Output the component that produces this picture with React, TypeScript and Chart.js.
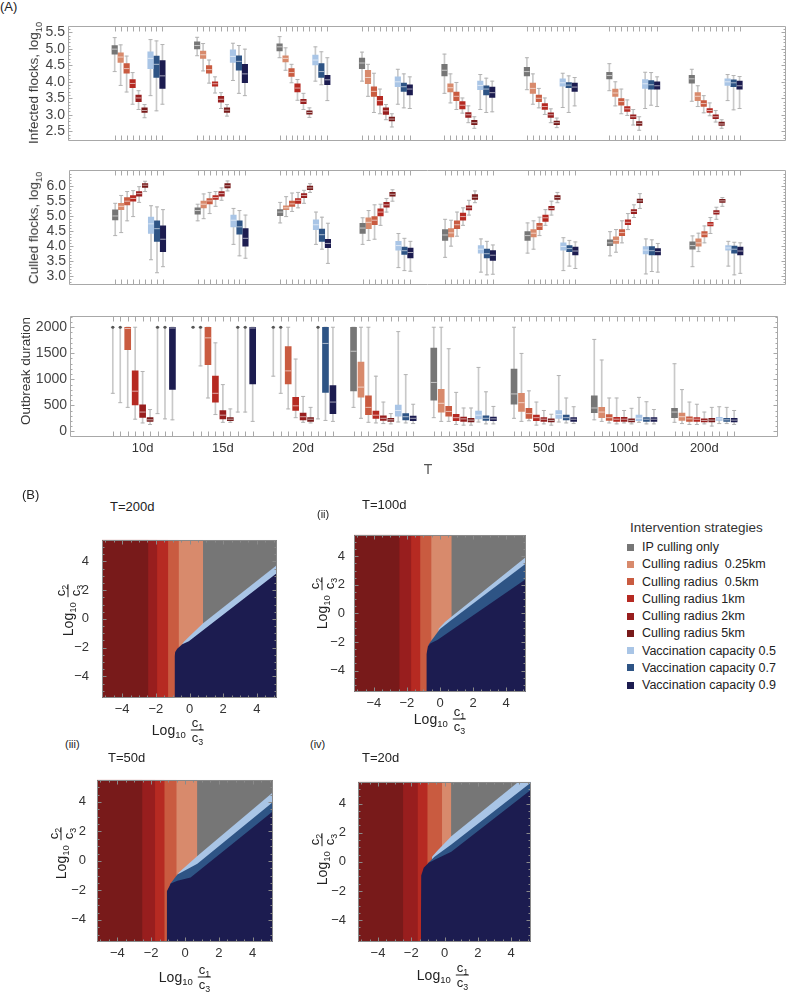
import React, { useEffect, useRef } from 'react';
import { Chart, registerables } from 'chart.js';
Chart.register(...registerables);

const FONT = '"Liberation Sans", Arial, Helvetica, sans-serif';
Chart.defaults.font.family = FONT;

// ---------- shared categories ----------
const groups = ['10d', '15d', '20d', '25d', '35d', '50d', '100d', '200d'];
const strategies = [
  'IP culling only',
  'Culling radius  0.25km',
  'Culling radius  0.5km',
  'Culling radius 1km',
  'Culling radius 2km',
  'Culling radius 5km',
  'Vaccination capacity 0.5',
  'Vaccination capacity 0.7',
  'Vaccination capacity 0.9',
];
const colors = ['#767676', '#d88a6c', '#c95b40', '#b62a22', '#981e1e', '#781a1a', '#a9c5e6', '#2e5485', '#1c1c50'];
const WHISKER = '#c9c9c9';
const CAP = '#b3b3b3';
const DOT = '#555555';

// ---------- (A) box plot statistics: per strategy, per T group: [min, q1, median, q3, max] ----------
const infectedStats = [
  [[4.31, 4.84, 4.99, 5.10, 5.34], [4.79, 5.00, 5.10, 5.21, 5.35], [4.73, 4.94, 5.06, 5.15, 5.37], [4.02, 4.40, 4.57, 4.72, 4.90], [3.65, 4.18, 4.35, 4.53, 4.84], [3.76, 4.18, 4.31, 4.44, 4.73], [3.73, 4.09, 4.19, 4.29, 4.55], [3.41, 3.96, 4.09, 4.20, 4.38]],
  [[3.89, 4.59, 4.75, 4.88, 5.12], [4.33, 4.71, 4.82, 4.93, 5.16], [4.35, 4.60, 4.71, 4.79, 5.03], [3.56, 3.94, 4.13, 4.35, 4.53], [3.36, 3.69, 3.82, 3.94, 4.24], [3.32, 3.65, 3.80, 3.96, 4.24], [3.27, 3.56, 3.66, 3.78, 4.00], [3.25, 3.43, 3.56, 3.67, 3.88]],
  [[3.69, 4.26, 4.40, 4.55, 4.78], [3.96, 4.26, 4.37, 4.49, 4.66], [3.97, 4.16, 4.28, 4.40, 4.53], [3.07, 3.56, 3.71, 3.85, 4.26], [3.16, 3.43, 3.56, 3.69, 3.98], [3.21, 3.40, 3.50, 3.60, 3.80], [3.03, 3.29, 3.40, 3.49, 3.78], [3.06, 3.25, 3.34, 3.43, 3.58]],
  [[3.32, 3.82, 3.95, 4.07, 4.28], [3.66, 3.87, 3.94, 4.00, 4.15], [3.44, 3.69, 3.81, 3.94, 4.07], [3.03, 3.29, 3.43, 3.56, 3.78], [3.05, 3.18, 3.29, 3.40, 3.51], [3.01, 3.16, 3.25, 3.34, 3.51], [2.98, 3.10, 3.18, 3.25, 3.45], [2.97, 3.07, 3.13, 3.19, 3.36]],
  [[3.16, 3.40, 3.51, 3.60, 3.73], [3.19, 3.38, 3.47, 3.56, 3.67], [3.16, 3.34, 3.41, 3.47, 3.65], [2.85, 3.01, 3.12, 3.21, 3.31], [2.76, 2.92, 3.00, 3.07, 3.27], [2.76, 2.92, 3.00, 3.06, 3.18], [2.69, 2.88, 2.94, 3.00, 3.16], [2.78, 2.88, 2.94, 3.00, 3.13]],
  [[2.91, 3.07, 3.13, 3.21, 3.31], [2.96, 3.07, 3.14, 3.21, 3.31], [2.92, 3.02, 3.07, 3.12, 3.21], [2.63, 2.81, 2.87, 2.93, 3.03], [2.59, 2.70, 2.76, 2.83, 2.94], [2.61, 2.70, 2.76, 2.81, 2.90], [2.53, 2.68, 2.74, 2.79, 2.94], [2.59, 2.68, 2.72, 2.78, 2.85]],
  [[3.58, 4.40, 4.71, 4.91, 5.28], [4.04, 4.59, 4.77, 4.97, 5.17], [4.02, 4.51, 4.66, 4.81, 5.06], [3.32, 3.85, 4.00, 4.15, 4.38], [3.16, 3.76, 3.89, 4.02, 4.22], [3.22, 3.87, 3.97, 4.09, 4.26], [3.19, 3.80, 3.94, 4.07, 4.29], [3.43, 3.89, 4.00, 4.09, 4.22]],
  [[3.12, 4.13, 4.53, 4.78, 5.24], [3.65, 4.35, 4.62, 4.79, 5.10], [3.91, 4.13, 4.31, 4.55, 4.91], [3.21, 3.71, 3.85, 3.96, 4.24], [3.07, 3.60, 3.78, 3.88, 4.11], [3.07, 3.82, 3.90, 3.98, 4.18], [3.29, 3.78, 3.91, 4.04, 4.28], [3.15, 3.85, 3.97, 4.06, 4.19]],
  [[3.32, 3.80, 4.18, 4.64, 5.13], [3.58, 3.97, 4.24, 4.53, 4.99], [3.43, 3.91, 4.06, 4.20, 4.73], [3.19, 3.60, 3.78, 3.91, 4.15], [3.09, 3.53, 3.67, 3.84, 4.02], [3.27, 3.71, 3.84, 3.96, 4.13], [3.25, 3.78, 3.88, 4.00, 4.15], [3.19, 3.78, 3.88, 4.02, 4.16]],
];

const culledStats = [
  [[4.35, 4.87, 5.00, 5.20, 5.42], [4.84, 5.06, 5.18, 5.27, 5.39], [4.77, 5.01, 5.13, 5.21, 5.45], [4.06, 4.42, 4.60, 4.76, 4.94], [3.63, 4.19, 4.37, 4.55, 4.89], [3.77, 4.19, 4.35, 4.48, 4.77], [3.68, 4.02, 4.11, 4.21, 4.48], [3.32, 3.90, 4.02, 4.14, 4.34]],
  [[4.45, 5.21, 5.32, 5.42, 5.68], [4.91, 5.27, 5.39, 5.49, 5.73], [4.98, 5.21, 5.27, 5.34, 5.64], [4.19, 4.58, 4.79, 4.94, 5.18], [4.00, 4.31, 4.44, 4.58, 4.86], [3.90, 4.31, 4.43, 4.55, 4.84], [3.80, 4.09, 4.19, 4.31, 4.55], [3.82, 4.00, 4.11, 4.24, 4.43]],
  [[4.84, 5.37, 5.49, 5.61, 5.81], [5.08, 5.40, 5.50, 5.58, 5.78], [5.15, 5.32, 5.40, 5.49, 5.76], [4.23, 4.71, 4.86, 4.98, 5.37], [4.33, 4.58, 4.71, 4.84, 5.13], [4.35, 4.55, 4.66, 4.76, 4.96], [4.11, 4.35, 4.45, 4.55, 4.84], [4.11, 4.31, 4.40, 4.48, 4.67]],
  [[4.98, 5.49, 5.58, 5.68, 5.84], [5.32, 5.55, 5.61, 5.68, 5.81], [5.27, 5.42, 5.52, 5.58, 5.78], [4.69, 5.00, 5.13, 5.24, 5.39], [4.69, 4.86, 4.98, 5.10, 5.27], [4.69, 4.82, 4.94, 5.03, 5.21], [4.55, 4.71, 4.79, 4.87, 5.08], [4.42, 4.67, 4.73, 4.79, 4.95]],
  [[5.45, 5.66, 5.74, 5.81, 5.97], [5.52, 5.66, 5.74, 5.81, 5.93], [5.42, 5.61, 5.68, 5.74, 5.85], [5.13, 5.29, 5.37, 5.45, 5.58], [5.03, 5.20, 5.27, 5.34, 5.52], [5.03, 5.20, 5.25, 5.32, 5.49], [4.95, 5.08, 5.15, 5.21, 5.37], [4.89, 5.06, 5.12, 5.18, 5.29]],
  [[5.81, 5.95, 6.02, 6.07, 6.15], [5.83, 5.93, 6.00, 6.07, 6.16], [5.78, 5.87, 5.93, 5.99, 6.07], [5.49, 5.66, 5.72, 5.78, 5.87], [5.44, 5.55, 5.62, 5.71, 5.83], [5.44, 5.55, 5.61, 5.68, 5.78], [5.25, 5.44, 5.50, 5.56, 5.74], [5.32, 5.45, 5.50, 5.55, 5.61]],
  [[3.55, 4.42, 4.74, 4.96, 5.34], [4.06, 4.64, 4.86, 5.03, 5.25], [4.06, 4.55, 4.71, 4.87, 5.13], [3.29, 3.87, 4.02, 4.16, 4.42], [3.14, 3.77, 3.90, 4.02, 4.24], [3.19, 3.87, 3.99, 4.11, 4.28], [3.08, 3.74, 3.87, 3.99, 4.24], [3.34, 3.87, 3.94, 4.02, 4.16]],
  [[3.12, 4.16, 4.58, 4.84, 5.30], [3.68, 4.40, 4.64, 4.84, 5.18], [3.90, 4.16, 4.38, 4.57, 4.96], [3.19, 3.73, 3.85, 3.97, 4.26], [3.05, 3.61, 3.75, 3.90, 4.16], [3.34, 3.82, 3.92, 4.02, 4.19], [3.16, 3.71, 3.85, 3.99, 4.21], [3.05, 3.77, 3.90, 4.00, 4.13]],
  [[3.32, 3.82, 4.23, 4.67, 5.21], [3.60, 4.00, 4.26, 4.58, 5.03], [3.43, 3.95, 4.09, 4.23, 4.76], [3.17, 3.61, 3.79, 3.94, 4.16], [3.07, 3.53, 3.70, 3.85, 4.04], [3.26, 3.71, 3.84, 3.97, 4.14], [3.14, 3.71, 3.82, 3.92, 4.09], [3.10, 3.71, 3.84, 3.97, 4.11]],
];

const durationStats = [
  [[731, 2000, 2000, 2000, 2000], [2000, 2000, 2000, 2000, 2000], [1060, 2000, 2000, 2000, 2000], [461, 778, 1539, 2000, 2000], [263, 599, 940, 1599, 2000], [251, 521, 719, 1198, 2000], [222, 359, 449, 683, 1766], [174, 263, 371, 443, 1299]],
  [[551, 2000, 2000, 2000, 2000], [1257, 2000, 2000, 2000, 2000], [731, 2000, 2000, 2000, 2000], [251, 659, 850, 1329, 2000], [192, 371, 539, 808, 2000], [192, 383, 551, 731, 1497], [192, 263, 371, 461, 1371], [150, 210, 281, 353, 802]],
  [[461, 1569, 1975, 2000, 2000], [641, 1281, 1796, 2000, 2000], [431, 910, 1162, 1629, 2000], [174, 323, 461, 683, 2000], [192, 293, 383, 479, 1587], [204, 251, 341, 443, 778], [162, 210, 263, 323, 641], [132, 192, 240, 281, 563]],
  [[234, 509, 772, 1162, 2000], [323, 563, 731, 1060, 1700], [263, 401, 491, 653, 1389], [162, 251, 311, 389, 1060], [132, 204, 263, 329, 749], [120, 204, 263, 311, 563], [144, 192, 234, 269, 641], [132, 192, 234, 263, 521]],
  [[162, 269, 371, 509, 1150], [174, 240, 311, 401, 898], [174, 222, 281, 353, 671], [150, 210, 251, 299, 563], [120, 192, 240, 275, 449], [144, 192, 234, 263, 401], [162, 192, 234, 269, 401], [144, 180, 210, 240, 371]],
  [[132, 192, 222, 263, 419], [174, 204, 234, 263, 431], [162, 192, 234, 263, 461], [144, 192, 222, 251, 341], [120, 180, 216, 251, 449], [120, 180, 210, 240, 329], [144, 180, 210, 240, 443], [102, 180, 216, 251, 461]],
  [[341, 2000, 2000, 2000, 2000], [371, 2000, 2000, 2000, 2000], [240, 2000, 2000, 2000, 2000], [180, 293, 401, 503, 1916], [180, 240, 311, 389, 1228], [180, 251, 323, 401, 1072], [174, 204, 251, 311, 653], [150, 210, 240, 269, 473]],
  [[240, 2000, 2000, 2000, 2000], [371, 2000, 2000, 2000, 2000], [210, 749, 1689, 2000, 2000], [162, 222, 281, 341, 1090], [144, 210, 251, 299, 760], [162, 222, 263, 311, 641], [144, 192, 234, 263, 569], [150, 192, 222, 251, 461]],
  [[222, 808, 1985, 2000, 2000], [192, 910, 1985, 2000, 2000], [192, 341, 563, 880, 2000], [150, 204, 251, 293, 521], [144, 204, 240, 275, 479], [150, 192, 234, 263, 473], [144, 192, 234, 263, 419], [132, 180, 216, 251, 401]],
];

const infectedTicks = [2.5, 3.0, 3.5, 4.0, 4.5, 5.0, 5.5];
const culledTicks = [3.0, 3.5, 4.0, 4.5, 5.0, 5.5, 6.0];
const durationTicks = [0, 500, 1000, 1500, 2000];

// ---------- (B) region maps (log10 c1/c3, log10 c2/c3) ----------
const mapTitles = ['T=200d', 'T=100d', 'T=50d', 'T=20d'];
const mapTicks = [-4, -2, 0, 2, 4];
// boundaries between strips: 5km|2km, 2km|1km, 1km|0.5km, 0.5km|0.25km, 0.25km|IP
const strips200 = [-2.44, -1.91, -1.26, -0.63, 0.81];
const strips100 = [-2.44, -1.73, -1.18, -0.51, 0.71];
const strips50 = [-2.51, -1.76, -1.2, -0.49, 0.73];
const strips20 = [-2.48, -1.6, -1.01, -0.14, 0.41];
// upper edges of vaccination regions
const light200X = [-0.6, -0.35, 0.0, 0.81, 5.2];
const light200Y = [-2.05, -1.6, -1.2, -0.31, 3.74];
const mid200X: number[] = [];
const mid200Y: number[] = [];
const navy200X = [-0.89, -0.89, -0.85, -0.73, -0.43, -0.04, 5.2];
const navy200Y = [-5.5, -2.6, -2.3, -2.08, -1.77, -1.56, 3.2];

const light100X = [-0.1, 0.3, 0.71, 5.2];
const light100Y = [-1.1, -0.6, -0.22, 3.95];
const mid100X = [-0.7, -0.45, 0.0, 0.71, 5.2];
const mid100Y = [-2.2, -1.8, -1.1, -0.45, 3.5];
const navy100X = [-0.83, -0.82, -0.73, -0.57, -0.16, 5.2];
const navy100Y = [-5.5, -2.85, -2.3, -2.08, -1.86, 2.41];

const light50X = [-0.5, -0.35, 0.73, 5.2];
const light50Y = [-1.05, -0.77, 0.33, 4.66];
const mid50X = [-0.9, -0.45, 0.73, 5.2];
const mid50Y = [-1.6, -0.92, -0.19, 3.99];
const navy50X = [-1.08, -1.08, -0.84, -0.45, 0.33, 5.2];
const navy50Y = [-5.5, -2.07, -1.54, -1.34, -1.13, 3.36];

const light20X = [-0.75, -0.4, 0.41, 5.2];
const light20Y = [0.35, 0.8, 1.76, 6.2];
const mid20X = [-1.0, -0.6, 0.41, 5.2];
const mid20Y = [-0.1, 0.35, 1.2, 5.45];
const navy20X = [-1.42, -1.4, -1.25, -0.95, -0.5, 0.41, 5.2];
const navy20Y = [-5.5, -0.94, -0.4, -0.05, 0.2, 0.69, 4.95];

const BX = [-5.2, 5.2];
const BY = [-5.5, 5.5];

// ---------- helpers ----------
type Area = { l: number; t: number; r: number; b: number };

function framePlugin(o: { xMajor: number[]; xMinor?: number[]; yMajor: number[]; yMinor: number[]; xLen: number; major: number; minor: number; color: string }) {
  return {
    id: 'frameTicks',
    afterDatasetsDraw(chart: any) {
      const { ctx, chartArea: a } = chart;
      const xs = chart.scales.x;
      const ys = chart.scales.y;
      const L = Math.round(a.left) + 0.5;
      const R = Math.round(a.right) - 0.5;
      const T = Math.round(a.top) + 0.5;
      const B = Math.round(a.bottom) - 0.5;
      ctx.save();
      ctx.strokeStyle = o.color;
      ctx.lineWidth = 1;
      ctx.beginPath();
      ctx.rect(L, T, R - L, B - T);
      const tx = (vals: number[], len: number) =>
        vals.forEach((v) => {
          const p = Math.round(xs.getPixelForValue(v)) + 0.5;
          ctx.moveTo(p, T);
          ctx.lineTo(p, T + len);
          ctx.moveTo(p, B);
          ctx.lineTo(p, B - len);
        });
      const ty = (vals: number[], len: number) =>
        vals.forEach((v) => {
          const p = Math.round(ys.getPixelForValue(v)) + 0.5;
          if (p < T || p > B) return;
          ctx.moveTo(L, p);
          ctx.lineTo(L + len, p);
          ctx.moveTo(R, p);
          ctx.lineTo(R - len, p);
        });
      tx(o.xMajor, o.xLen);
      if (o.xMinor) tx(o.xMinor, o.minor);
      ty(o.yMajor, o.major);
      ty(o.yMinor, o.minor);
      ctx.stroke();
      ctx.restore();
    },
  };
}

function minorTicks(from: number, to: number, step: number, skipEvery: number) {
  const out: number[] = [];
  const n = Math.round((to - from) / step);
  for (let i = 0; i <= n; i++) {
    const v = from + i * step;
    const k = Math.round(v / step);
    if (k % skipEvery !== 0) out.push(+v.toFixed(6));
  }
  return out;
}

function boxDatasets(stats: number[][][], step: number, thick: number, minIqr: number) {
  const ds: any[] = [];
  stats.forEach((rows, s) => {
    const xs = rows.map((_, g) => g + (s - 4) * step);
    const open = (g: number) => rows[g][3] - rows[g][1] >= minIqr;
    ds.push({
      type: 'bar',
      data: rows.map((r, g) => ({ x: xs[g], y: [r[0], r[4]] })),
      backgroundColor: WHISKER,
      barThickness: 1,
      grouped: false,
      order: 40,
    });
    ds.push({
      type: 'scatter',
      data: rows.flatMap((r, g) => [{ x: xs[g], y: r[0] }, { x: xs[g], y: r[4] }]),
      pointStyle: 'line',
      pointRadius: 2,
      pointBorderColor: CAP,
      pointBackgroundColor: CAP,
      pointBorderWidth: 1,
      order: 30,
    });
    ds.push({
      type: 'bar',
      data: rows.map((r, g) => ({ x: xs[g], y: [r[1], r[3]] })).filter((_, g) => open(g)),
      backgroundColor: colors[s],
      barThickness: thick,
      grouped: false,
      order: 20,
    });
    ds.push({
      type: 'scatter',
      data: rows.map((r, g) => ({ x: xs[g], y: r[2] })).filter((_, g) => open(g)),
      pointStyle: 'line',
      pointRadius: thick / 2,
      pointBorderColor: 'rgba(255,255,255,0.6)',
      pointBackgroundColor: 'rgba(255,255,255,0.6)',
      pointBorderWidth: 1,
      order: 10,
    });
    ds.push({
      type: 'scatter',
      data: rows.map((r, g) => ({ x: xs[g], y: r[2] })).filter((_, g) => !open(g)),
      pointStyle: 'circle',
      pointRadius: 1.5,
      pointBorderWidth: 0,
      pointBackgroundColor: DOT,
      pointBorderColor: DOT,
      order: 5,
    });
  });
  return ds;
}

function boxChart(opts: {
  stats: number[][][];
  step: number;
  thick: number;
  minIqr: number;
  xMin: number;
  xMax: number;
  yMin: number;
  yMax: number;
  yTicks: number[];
  yMinor: number[];
  fmt: (v: number) => string;
  showX: boolean;
  yW: number;
  xH: number;
}) {
  const boxXs: number[] = [];
  opts.stats.forEach((rows, s) => rows.forEach((_, g) => boxXs.push(g + (s - 4) * opts.step)));
  return {
    type: 'bar',
    data: { datasets: boxDatasets(opts.stats, opts.step, opts.thick, opts.minIqr) },
    options: {
      animation: false,
      responsive: false,
      events: [],
      plugins: { legend: { display: false }, tooltip: { enabled: false } },
      scales: {
        x: {
          type: 'linear',
          min: opts.xMin,
          max: opts.xMax,
          offset: false,
          display: opts.showX,
          afterBuildTicks: (s: any) => {
            s.ticks = groups.map((_, i) => ({ value: i }));
          },
          ticks: {
            autoSkip: false,
            maxRotation: 0,
            padding: 4,
            color: '#333',
            font: { size: 13, family: FONT },
            callback: (v: any) => groups[v] ?? '',
          },
          grid: { display: false, drawTicks: false },
          border: { display: false },
          afterFit: (s: any) => {
            s.height = opts.xH;
          },
        },
        y: {
          type: 'linear',
          min: opts.yMin,
          max: opts.yMax,
          beginAtZero: false,
          afterBuildTicks: (s: any) => {
            s.ticks = opts.yTicks.map((v) => ({ value: v }));
          },
          ticks: {
            autoSkip: false,
            padding: 3,
            color: '#444',
            font: { size: 14, family: FONT },
            callback: (v: any) => opts.fmt(Number(v)),
          },
          grid: { display: false, drawTicks: false },
          border: { display: false },
          afterFit: (s: any) => {
            s.width = opts.yW;
          },
        },
      },
    },
    plugins: [
      framePlugin({ xMajor: boxXs, yMajor: opts.yTicks, yMinor: opts.yMinor, xLen: 5, major: 4, minor: 2, color: '#a8a8a8' }),
    ],
  };
}

function regionDatasets(bounds: number[], lx: number[], ly: number[], mx: number[], my: number[], nx: number[], ny: number[]) {
  const top = BY[1];
  const list: { color: string; xs: number[]; ys: number[] }[] = [];
  list.push({ color: colors[0], xs: [BX[0], BX[1]], ys: [top, top] });
  for (let s = 1; s <= 5; s++) list.push({ color: colors[s], xs: [BX[0], bounds[5 - s]], ys: [top, top] });
  if (lx.length) list.push({ color: colors[6], xs: lx, ys: ly });
  if (mx.length) list.push({ color: colors[7], xs: mx, ys: my });
  list.push({ color: colors[8], xs: nx, ys: ny });
  return list.map((r, i) => ({
    type: 'line',
    data: r.xs.map((x, k) => ({ x, y: r.ys[k] })),
    fill: 'start',
    backgroundColor: r.color,
    borderColor: 'rgba(0,0,0,0)',
    borderWidth: 0,
    pointRadius: 0,
    tension: 0,
    order: list.length - i,
  }));
}

const fmtMap = (v: number) => (v < 0 ? '\u2212' + Math.abs(v) : String(v));

function mapChart(datasets: any[], yW: number, xH: number, yPad: number) {
  return {
    type: 'line',
    data: { datasets },
    options: {
      animation: false,
      responsive: false,
      events: [],
      plugins: { legend: { display: false }, tooltip: { enabled: false } },
      scales: {
        x: {
          type: 'linear',
          min: BX[0],
          max: BX[1],
          afterBuildTicks: (s: any) => {
            s.ticks = mapTicks.map((v) => ({ value: v }));
          },
          ticks: { autoSkip: false, padding: 4, color: '#333', font: { size: 13, family: FONT }, callback: (v: any) => fmtMap(Number(v)), maxRotation: 0 },
          grid: { display: false, drawTicks: false },
          border: { display: false },
          afterFit: (s: any) => {
            s.height = xH;
          },
        },
        y: {
          type: 'linear',
          min: BY[0],
          max: BY[1],
          afterBuildTicks: (s: any) => {
            s.ticks = mapTicks.map((v) => ({ value: v }));
          },
          ticks: { autoSkip: false, padding: yPad, color: '#333', font: { size: 13, family: FONT }, callback: (v: any) => fmtMap(Number(v)) },
          grid: { display: false, drawTicks: false },
          border: { display: false },
          afterFit: (s: any) => {
            s.width = yW;
          },
        },
      },
    },
    plugins: [
      framePlugin({
        xMajor: mapTicks,
        xMinor: minorTicks(-5, 5, 0.5, 4),
        yMajor: mapTicks,
        yMinor: minorTicks(-5, 5, 0.5, 4),
        xLen: 4,
        major: 4,
        minor: 2,
        color: '#8a8a8a',
      }),
    ],
  };
}

function ChartBox({ area, yW, xH, padT = 3, padR = 2, showX, build }: { area: Area; yW: number; xH: number; padT?: number; padR?: number; showX: boolean; build: () => any }) {
  const ref = useRef<HTMLCanvasElement>(null);
  const w = Math.round(area.r - area.l + yW + padR);
  const h = Math.round(area.b - area.t + padT + xH);
  useEffect(() => {
    const cfg = build();
    cfg.options.layout = { padding: { top: padT, right: padR, left: 0, bottom: showX ? 0 : xH } };
    const c = new Chart(ref.current as HTMLCanvasElement, cfg);
    return () => c.destroy();
  }, []);
  return (
    <canvas
      ref={ref}
      width={w}
      height={h}
      style={{ position: 'absolute', left: area.l - yW, top: area.t - padT, width: w, height: h }}
    />
  );
}

function Txt({ x, y, size = 13, color = '#222', align = 'left', rotate = false, children }: any) {
  const tx = align === 'center' ? '-50%' : '0';
  return (
    <div
      style={{
        position: 'absolute',
        left: x,
        top: y,
        transform: rotate ? 'translate(-50%,-50%) rotate(-90deg)' : `translate(${tx},-50%)`,
        fontSize: size,
        color,
        whiteSpace: 'pre',
        lineHeight: 1.2,
        fontFamily: FONT,
      }}
    >
      {children}
    </div>
  );
}

const subStyle: any = { fontSize: '0.68em', verticalAlign: 'sub', lineHeight: 0 };

function LogFrac({ a, b }: { a: string; b: string }) {
  return (
    <span style={{ display: 'inline-flex', alignItems: 'center', fontSize: 14, color: '#222' }}>
      <span>
        Log<span style={subStyle}>10</span>
      </span>
      <span style={{ display: 'inline-flex', flexDirection: 'column', alignItems: 'center', marginLeft: 5, fontSize: 13 }}>
        <span style={{ borderBottom: '1px solid #222', lineHeight: '14px', padding: '0 1px' }}>
          c<span style={subStyle}>{a}</span>
        </span>
        <span style={{ lineHeight: '14px' }}>
          c<span style={subStyle}>{b}</span>
        </span>
      </span>
    </span>
  );
}

const mapAreas: Area[] = [
  { l: 102, t: 522, r: 277, b: 698 },
  { l: 354, t: 521, r: 526, b: 692 },
  { l: 97, t: 764, r: 273, b: 942 },
  { l: 358, t: 765, r: 531, b: 942 },
];
const mapYPad = [13, 9, 11, 12];

export default function App() {
  const mapData = [
    () => regionDatasets(strips200, light200X, light200Y, mid200X, mid200Y, navy200X, navy200Y),
    () => regionDatasets(strips100, light100X, light100Y, mid100X, mid100Y, navy100X, navy100Y),
    () => regionDatasets(strips50, light50X, light50Y, mid50X, mid50Y, navy50X, navy50Y),
    () => regionDatasets(strips20, light20X, light20Y, mid20X, mid20Y, navy20X, navy20Y),
  ];
  const titlePos = [
    [110, 507],
    [362, 505],
    [108, 758],
    [362, 758],
  ];
  const xTitlePos = [
    [178, 730],
    [440, 719],
    [185, 977],
    [443, 975],
  ];
  const yTitlePos = [
    [68, 610],
    [322, 603],
    [61, 853],
    [322, 859],
  ];
  return (
    <div style={{ position: 'absolute', left: 0, top: 0, width: 791, height: 994, background: '#fff', overflow: 'hidden', fontFamily: FONT }}>
      <Txt x={0} y={7} size={13}>(A)</Txt>
      <ChartBox
        area={{ l: 68, t: 18, r: 790, b: 149 }}
        yW={68}
        xH={3}
        padR={1}
        showX={false}
        build={() =>
          boxChart({
            stats: infectedStats, step: 0.0724, thick: 5.5, minIqr: 0,
            xMin: -0.856, xMax: 7.853, yMin: 2.217, yMax: 5.68,
            yTicks: infectedTicks, yMinor: minorTicks(2.3, 5.6, 0.1, 5),
            fmt: (v) => v.toFixed(1), showX: false, yW: 68, xH: 3,
          })
        }
      />
      <Txt x={34} y={83} size={13.5} color="#333" rotate>
        Infected flocks, log<span style={subStyle}>10</span>
      </Txt>
      <ChartBox
        area={{ l: 69, t: 162, r: 790, b: 293 }}
        yW={69}
        xH={3}
        padR={1}
        showX={false}
        build={() =>
          boxChart({
            stats: culledStats, step: 0.0724, thick: 5.5, minIqr: 0,
            xMin: -0.85, xMax: 7.844, yMin: 2.727, yMax: 6.51,
            yTicks: culledTicks, yMinor: minorTicks(2.8, 6.5, 0.1, 5),
            fmt: (v) => v.toFixed(1), showX: false, yW: 69, xH: 3,
          })
        }
      />
      <Txt x={34} y={228} size={13.5} color="#333" rotate>
        Culled flocks, log<span style={subStyle}>10</span>
      </Txt>
      <ChartBox
        area={{ l: 70, t: 308, r: 782, b: 437 }}
        yW={70}
        xH={30}
        padR={1}
        showX={true}
        build={() =>
          boxChart({
            stats: durationStats, step: 0.0929, thick: 6, minIqr: 50,
            xMin: -0.905, xMax: 7.918, yMin: -108, yMax: 2208,
            yTicks: durationTicks, yMinor: minorTicks(-100, 2200, 100, 5),
            fmt: (v) => String(v), showX: true, yW: 70, xH: 30,
          })
        }
      />
      <Txt x={26} y={371} size={13.5} color="#333" rotate>
        Outbreak duration
      </Txt>
      <Txt x={428} y={469} size={14} color="#555" align="center">T</Txt>

      <Txt x={22} y={495} size={13}>(B)</Txt>
      <Txt x={317} y={515} size={11}>(ii)</Txt>
      <Txt x={65} y={745} size={11}>(iii)</Txt>
      <Txt x={310} y={745} size={11}>(iv)</Txt>
      {mapAreas.map((a, i) => (
        <ChartBox key={'m' + i} area={a} yW={30} xH={22} padR={3} showX={true} build={() => mapChart(mapData[i](), 30, 22, mapYPad[i])} />
      ))}
      {mapTitles.map((t, i) => (
        <Txt key={'t' + i} x={titlePos[i][0]} y={titlePos[i][1]} size={13}>
          {t}
        </Txt>
      ))}
      {xTitlePos.map((p, i) => (
        <Txt key={'xt' + i} x={p[0]} y={p[1]} align="center">
          <LogFrac a="1" b="3" />
        </Txt>
      ))}
      {yTitlePos.map((p, i) => (
        <Txt key={'yt' + i} x={p[0]} y={p[1]} rotate>
          <LogFrac a="2" b="3" />
        </Txt>
      ))}

      <Txt x={630} y={528} size={13.5} color="#333">Intervention strategies</Txt>
      {strategies.map((s, i) => (
        <div
          key={'lg' + i}
          style={{ position: 'absolute', left: 627, top: 547 + i * 17.25 - 8, height: 16, display: 'flex', alignItems: 'center', fontSize: 12.5, color: '#222', whiteSpace: 'pre', fontFamily: FONT }}
        >
          <span style={{ display: 'inline-block', width: 7, height: 7, background: colors[i], marginRight: 8 }} />
          {s}
        </div>
      ))}
    </div>
  );
}
